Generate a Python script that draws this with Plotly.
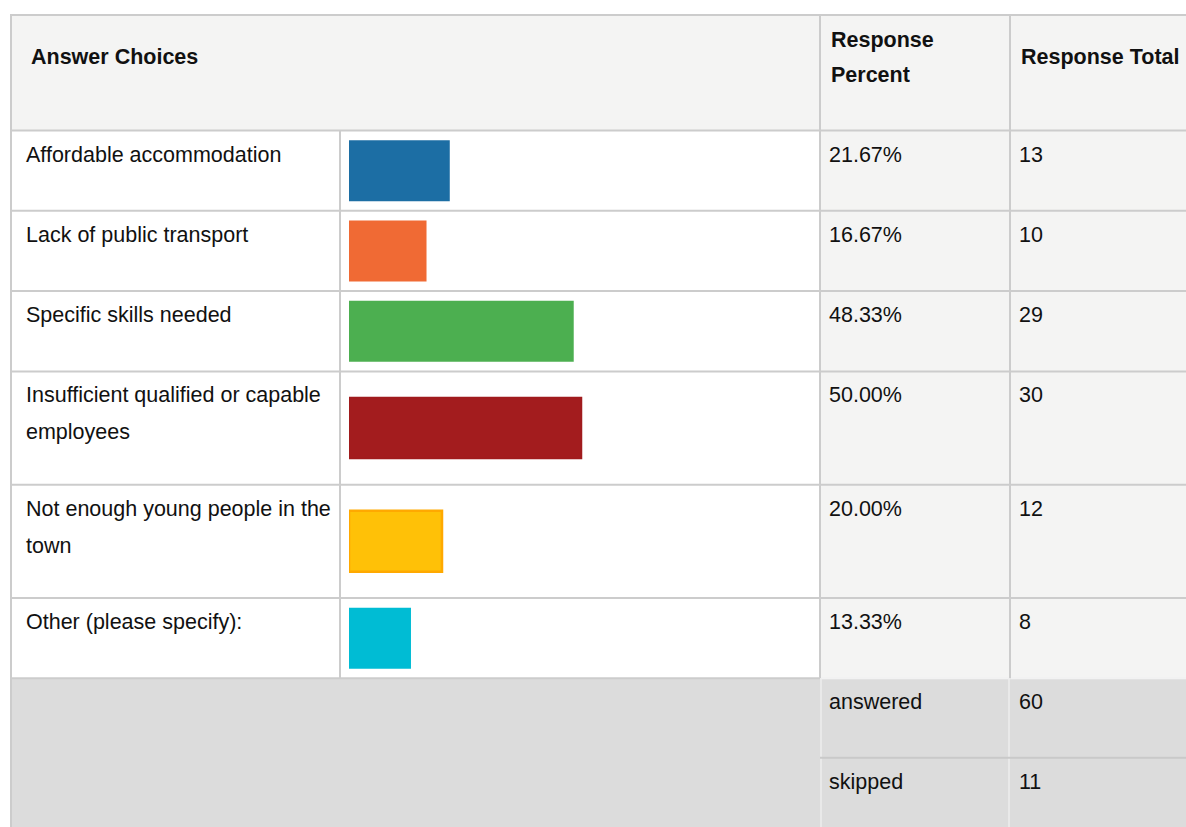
import plotly.graph_objects as go

# ---- data ----
answer_choices = [
    "Affordable accommodation",
    "Lack of public transport",
    "Specific skills needed",
    "Insufficient qualified or capable|employees",
    "Not enough young people in the|town",
    "Other (please specify):",
]
response_percent = [21.67, 16.67, 48.33, 50.00, 20.00, 13.33]
response_total = [13, 10, 29, 30, 12, 8]
bar_colors = ["#1c6ea4", "#f06a34", "#4caf50", "#a31c1e", "#ffc107", "#00bcd4"]
bar_edge_colors = ["#1c6ea4", "#f06a34", "#4caf50", "#a01b1d", "#ffa900", "#00bcd4"]
summary_labels = ["answered", "skipped"]
summary_values = [60, 11]
header_labels = ["Answer Choices", "Response|Percent", "Response Total"]

# ---- table geometry (pixels) ----
W, H = 1186, 827
TABLE_LEFT, TABLE_TOP, HEADER_BOTTOM = 11, 15, 130.5
COL_BAR, COL_PCT, COL_TOT = 340, 820, 1010
ONE_LINE_H, TWO_LINE_H, SUMMARY_H = 80.3, 113.3, 79.5
LINE_STEP = 37
FIRST_LINE_OFFSET = 24
GRID = "#cccccc"
HEAD_BG = "#f4f4f3"
FOOT_BG = "#dcdcdc"
FONT = "Liberation Sans, Arial, sans-serif"
FS = 21.5

lines_per_row = [lbl.split("|") for lbl in answer_choices]
row_tops = []
y = HEADER_BOTTOM
for lines in lines_per_row:
    row_tops.append(y)
    y += ONE_LINE_H if len(lines) == 1 else TWO_LINE_H
rows_bottom = y
row_bottoms = row_tops[1:] + [rows_bottom]
row_centers = [(a + b) / 2 for a, b in zip(row_tops, row_bottoms)]
summary_tops = [rows_bottom + i * SUMMARY_H for i in range(len(summary_labels))]


def px(x):
    return x / W


shapes = []


def rect(x0, y0, x1, y1, color):
    shapes.append(dict(type="rect", xref="paper", yref="y", x0=px(x0), x1=px(x1),
                       y0=y0, y1=y1, fillcolor=color, line=dict(width=0), layer="below"))


def line(x0, y0, x1, y1, color=GRID, width=2):
    shapes.append(dict(type="line", xref="paper", yref="y", x0=px(x0), x1=px(x1),
                       y0=y0, y1=y1, line=dict(color=color, width=width), layer="below"))


# backgrounds
rect(TABLE_LEFT, TABLE_TOP, W, HEADER_BOTTOM, HEAD_BG)
rect(TABLE_LEFT, HEADER_BOTTOM, COL_PCT, rows_bottom, "#ffffff")
rect(COL_PCT, HEADER_BOTTOM, W, rows_bottom, HEAD_BG)
rect(TABLE_LEFT, rows_bottom, W, H, FOOT_BG)

# grid lines
line(TABLE_LEFT, TABLE_TOP, W, TABLE_TOP)
line(TABLE_LEFT, TABLE_TOP - 1, TABLE_LEFT, H)
for yb in [HEADER_BOTTOM] + row_bottoms[:-1]:
    line(TABLE_LEFT, yb, W, yb)
line(TABLE_LEFT, rows_bottom, COL_PCT, rows_bottom)
line(COL_PCT, rows_bottom, W, rows_bottom, "#f2f2f2", 2)
line(COL_BAR, HEADER_BOTTOM, COL_BAR, rows_bottom)
line(COL_PCT, TABLE_TOP, COL_PCT, rows_bottom)
line(COL_TOT, TABLE_TOP, COL_TOT, rows_bottom)
line(COL_PCT + 1, rows_bottom, COL_PCT + 1, H, "#eeeeee", 1.5)
line(COL_TOT - 1, rows_bottom, COL_TOT - 1, H, "#eeeeee", 1.5)
for st in summary_tops[1:]:
    line(COL_PCT, st, W, st, "#c9c9c9", 2)

annotations = []


def text(x, yc, s, bold=False):
    annotations.append(dict(xref="paper", yref="y", x=px(x), y=yc, text=f"<b>{s}</b>" if bold else s,
                            showarrow=False, xanchor="left", yanchor="middle",
                            font=dict(family=FONT, size=FS, color="#111111"), borderpad=0))


# header
text(30, 56.5, header_labels[0], bold=True)
for i, part in enumerate(header_labels[1].split("|")):
    text(830, 39.5 + i * 35, part, bold=True)
text(1020, 56.5, header_labels[2], bold=True)

# body
for top, lines, pct, tot in zip(row_tops, lines_per_row, response_percent, response_total):
    for i, part in enumerate(lines):
        text(24.5, top + FIRST_LINE_OFFSET + i * LINE_STEP, part)
    text(828, top + FIRST_LINE_OFFSET, f"{pct:.2f}%")
    text(1018, top + FIRST_LINE_OFFSET, str(tot))

for top, lab, val in zip(summary_tops, summary_labels, summary_values):
    text(828, top + FIRST_LINE_OFFSET, lab)
    text(1018, top + FIRST_LINE_OFFSET, str(val))

fig = go.Figure(go.Bar(
    orientation="h",
    x=response_percent,
    y=row_centers,
    width=61,
    marker=dict(color=bar_colors, line=dict(color=bar_edge_colors, width=[0, 0, 0, 1.5, 2.5, 0])),
    hoverinfo="skip",
))

fig.update_layout(
    width=W, height=H,
    margin=dict(l=0, r=0, t=0, b=0),
    paper_bgcolor="#ffffff",
    plot_bgcolor="rgba(0,0,0,0)",
    showlegend=False,
    xaxis=dict(domain=[px(349), px(349 + 465)], range=[0, 100], visible=False, fixedrange=True),
    yaxis=dict(domain=[0, 1], range=[H, 0], visible=False, fixedrange=True),
    shapes=shapes,
    annotations=annotations,
)

fig.write_html("out.html")
